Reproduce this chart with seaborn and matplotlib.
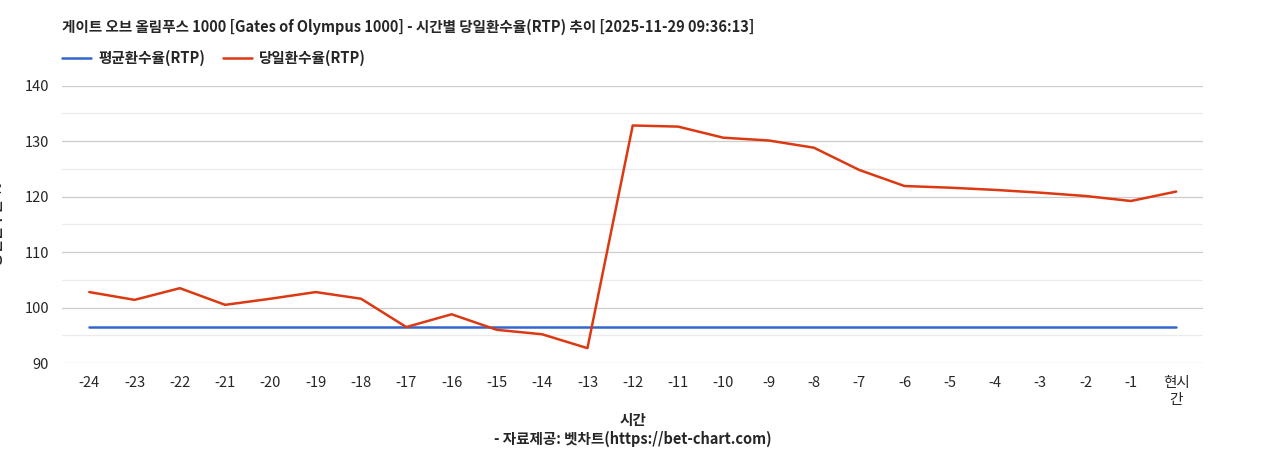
import matplotlib
matplotlib.use("Agg")
import matplotlib.pyplot as plt
import seaborn as sns
import pandas as pd

hours = ["-24", "-23", "-22", "-21", "-20", "-19", "-18", "-17", "-16", "-15", "-14", "-13",
         "-12", "-11", "-10", "-9", "-8", "-7", "-6", "-5", "-4", "-3", "-2", "-1", "현시\n간"]
daily_rtp = [102.8, 101.4, 103.5, 100.5, 101.6, 102.8, 101.6, 96.5, 98.8, 96.0, 95.2, 92.7,
             132.8, 132.6, 130.6, 130.1, 128.8, 124.8, 121.9, 121.6, 121.2, 120.7, 120.1, 119.2, 120.9]
avg_rtp = [96.5] * len(hours)

sns.set_theme(style="white")
plt.rcParams['font.family'] = ['Noto Sans CJK KR', 'DejaVu Sans']

df = pd.DataFrame({"x": range(len(hours)), "avg": avg_rtp, "daily": daily_rtp})

fig, ax = plt.subplots(figsize=(12.68, 4.5), dpi=100)
fig.subplots_adjust(left=0.049, right=0.949, top=0.81, bottom=0.193)

for y in range(90, 141, 5):
    ax.axhline(y, color="#cccccc" if y % 10 == 0 else "#ebebeb", lw=0.9, zorder=0)

sns.lineplot(data=df, x="x", y="avg", ax=ax, color="#3366cc", lw=1.8, label="평균환수율(RTP)")
sns.lineplot(data=df, x="x", y="daily", ax=ax, color="#dc3912", lw=1.8, label="당일환수율(RTP)")

ax.set_ylim(90, 140)
ax.set_yticks(range(90, 141, 10))
ax.set_xlim(-0.6, len(hours) - 0.4)
ax.set_xticks(range(len(hours)))
ax.set_xticklabels(hours, fontsize=10.5)
ax.tick_params(axis="y", labelsize=10.5)
for s in ax.spines.values():
    s.set_visible(False)
ax.set_xlabel("시간\n- 자료제공: 벳차트(https://bet-chart.com)", fontsize=10.5, fontweight="bold")
ax.set_ylabel("당일환수율 %", fontsize=10.5, fontweight="bold", labelpad=14)

ax.legend(loc="lower left", bbox_to_anchor=(0.0, 1.07), ncol=2, frameon=False,
          prop={"weight": "bold", "size": 10.5}, handlelength=2.0, borderaxespad=0,
          columnspacing=1.2, handletextpad=0.5, borderpad=0)
fig.text(0.049, 0.93, "게이트 오브 올림푸스 1000 [Gates of Olympus 1000] - 시간별 당일환수율(RTP) 추이 [2025-11-29 09:36:13]",
         fontsize=10.5, fontweight="bold")

fig.savefig("out.png")
